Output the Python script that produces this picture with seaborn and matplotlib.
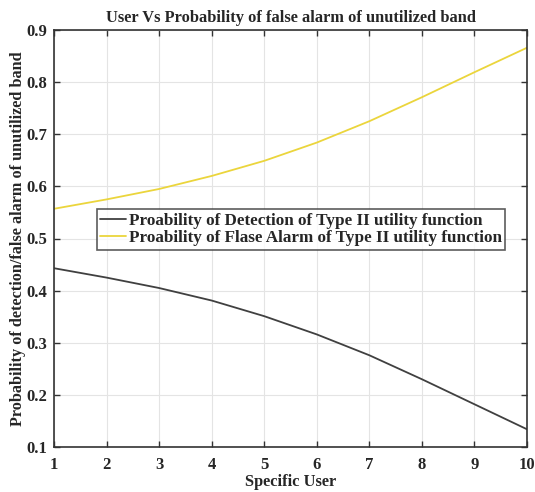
import pandas as pd
import matplotlib
matplotlib.use("Agg")
import matplotlib.pyplot as plt
import seaborn as sns

users = [1, 2, 3, 4, 5, 6, 7, 8, 9, 10]
p_detection = [0.443, 0.425, 0.405, 0.381, 0.351, 0.316, 0.276, 0.230, 0.182, 0.134]
p_false_alarm = [0.557, 0.575, 0.595, 0.620, 0.649, 0.684, 0.725, 0.771, 0.819, 0.866]
labels = ["Proability of Detection of Type II utility function",
          "Proability of Flase Alarm of Type II utility function"]

df = pd.DataFrame({
    "user": users * 2,
    "prob": p_detection + p_false_alarm,
    "series": [labels[0]] * len(users) + [labels[1]] * len(users),
})

sns.set_style("ticks")
plt.rcParams['font.family'] = ['Liberation Serif', 'DejaVu Serif']
plt.rcParams['font.weight'] = 'bold'

fig = plt.figure(figsize=(5.35, 4.92), dpi=100)
ax = fig.add_axes([54 / 535, 45 / 492, 473 / 535, 417 / 492])

sns.lineplot(data=df, x="user", y="prob", hue="series",
             palette=["#404040", "#EBD53C"], linewidth=1.3, ax=ax)

ax.set_xlim(1, 10)
ax.set_ylim(0.1, 0.9)
ax.set_xticks(users)
ax.set_yticks([0.1, 0.2, 0.3, 0.4, 0.5, 0.6, 0.7, 0.8, 0.9])
ax.set_yticklabels(["0.1", "0.2", "0.3", "0.4", "0.5", "0.6", "0.7", "0.8", "0.9"])
ax.grid(True, color="#e4e4e4", linewidth=0.8)
ax.tick_params(direction="in", top=True, right=True, length=4, width=1,
               labelsize=12, color="#333333")
ax.tick_params(axis="x", pad=7)
ax.tick_params(axis="y", pad=5)
for lab in ax.get_xticklabels() + ax.get_yticklabels():
    lab.set_fontweight("bold")
for s in ax.spines.values():
    s.set_color("#333333")
    s.set_linewidth(1.2)

ax.set_xlabel("Specific User", fontsize=11.8, fontweight="bold", labelpad=1)
ax.set_ylabel("Probability of detection/false alarm of unutilized band",
              fontsize=11.7, fontweight="bold", labelpad=0)
ax.set_title("User Vs Probability of false alarm of unutilized band",
             fontsize=11.8, fontweight="bold", pad=6)

leg = ax.legend(loc="upper left", bbox_to_anchor=(0.09, 0.57), fontsize=12.3,
                frameon=True, fancybox=False, handlelength=1.5, handletextpad=0.2,
                borderpad=0.2, labelspacing=0.1, borderaxespad=0)
leg.get_frame().set_edgecolor("#333333")
leg.get_frame().set_linewidth(1.2)
for t in leg.get_texts():
    t.set_fontweight("bold")

fig.savefig("out.png", dpi=100)
